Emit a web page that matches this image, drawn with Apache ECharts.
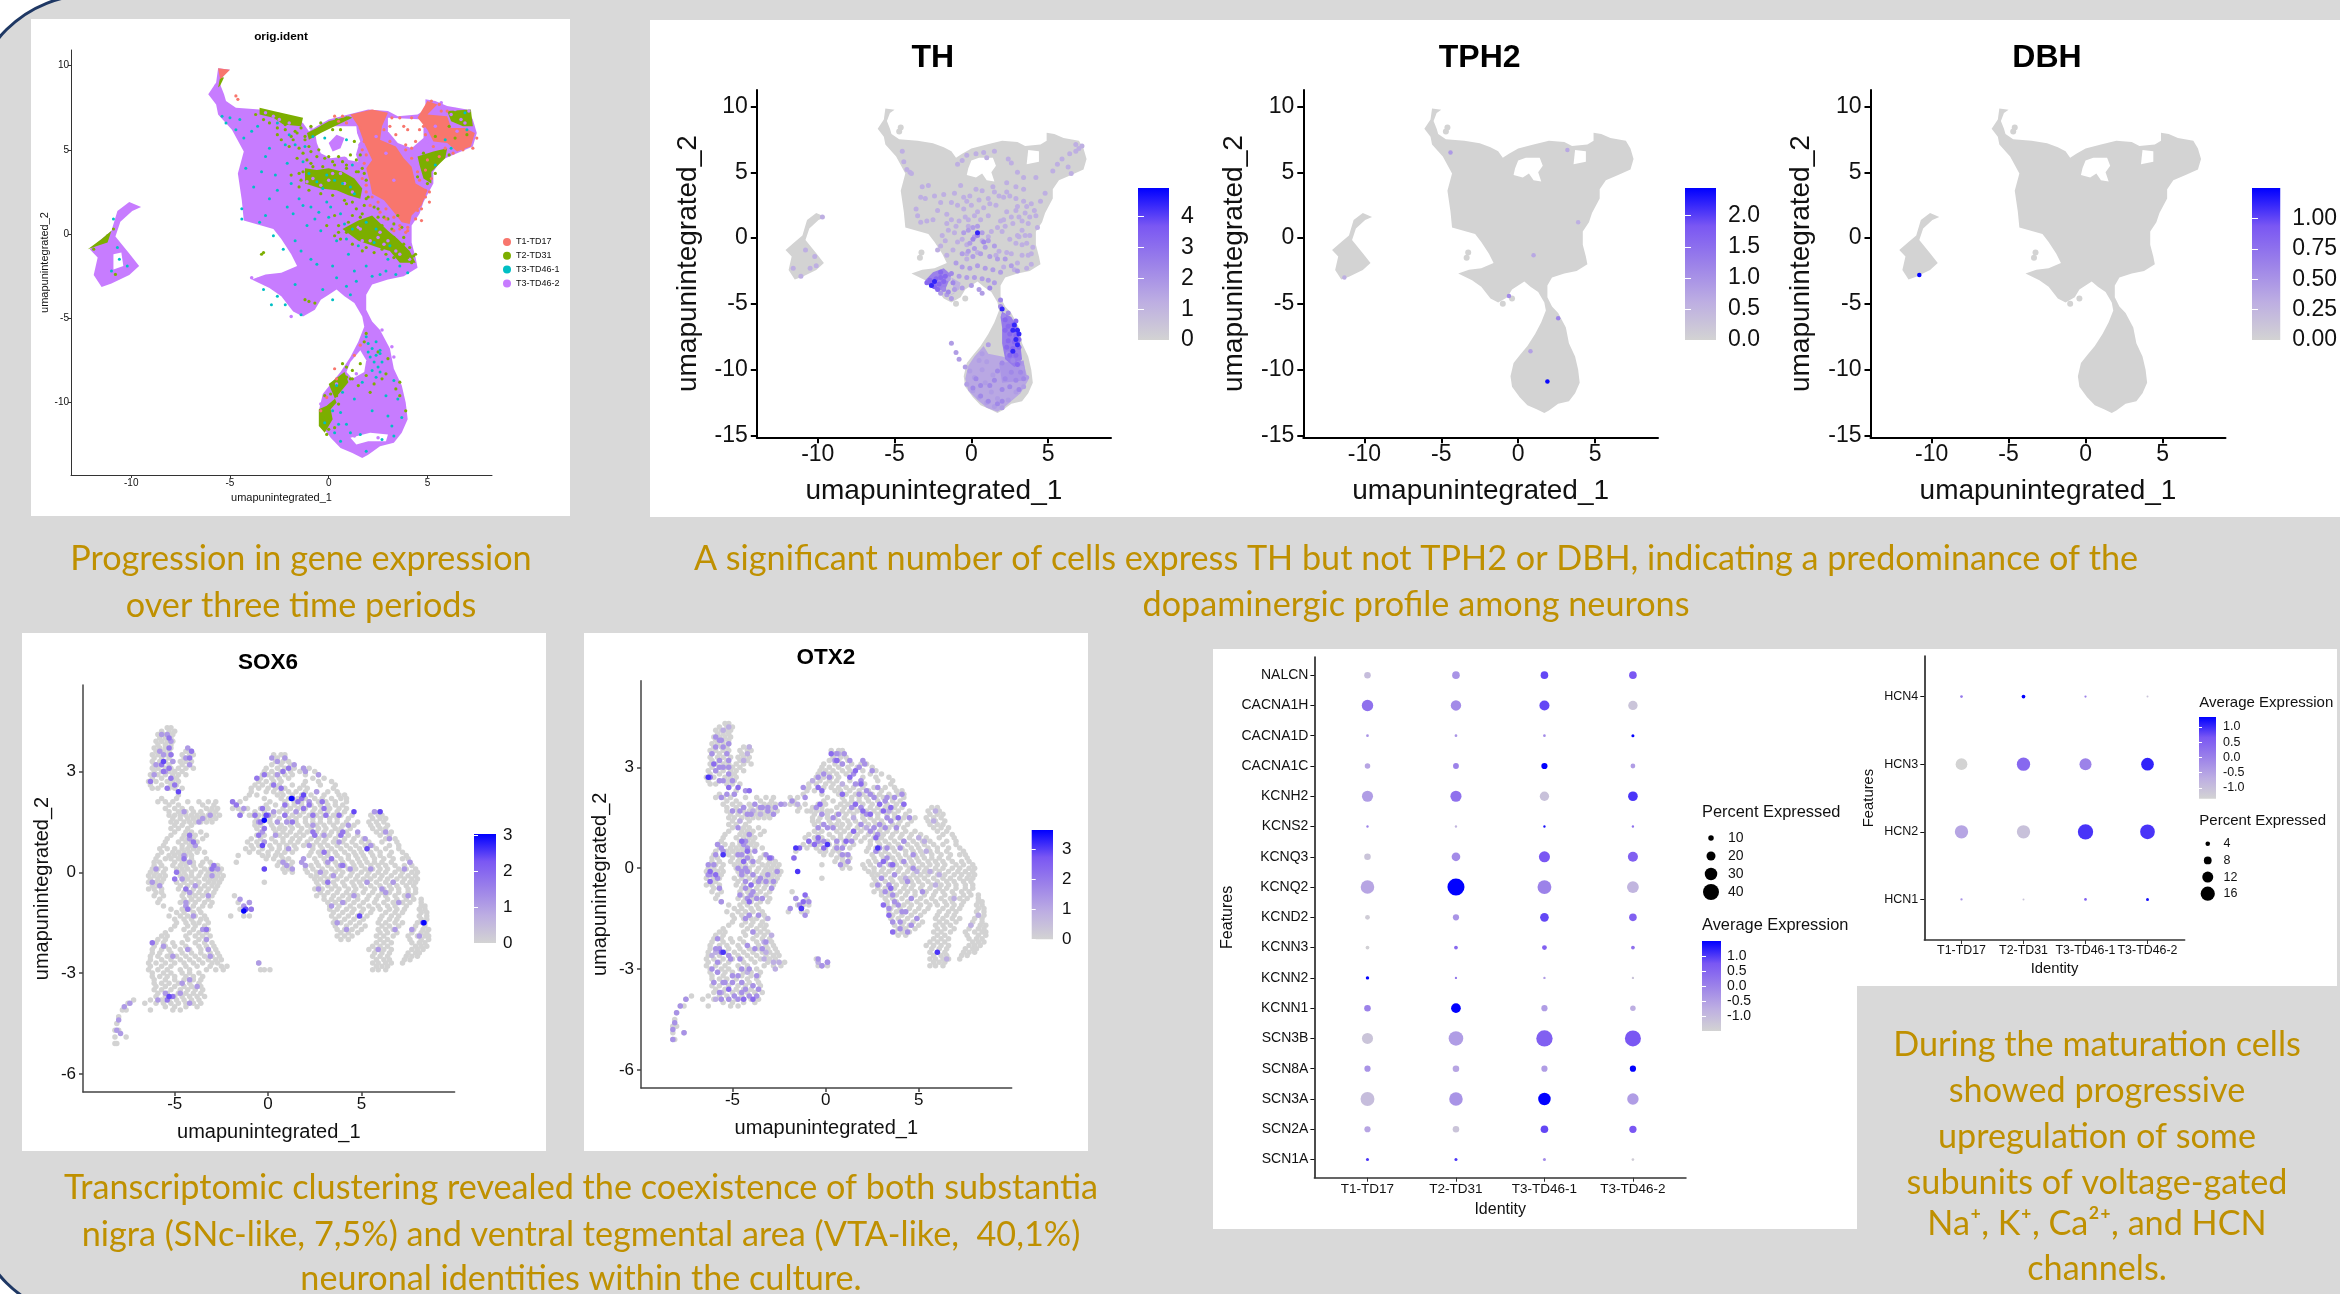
<!DOCTYPE html>
<html><head><meta charset="utf-8">
<style>html,body{margin:0;padding:0;background:#fff}#c{width:2340px;height:1294px}</style>
<script src="https://cdn.jsdelivr.net/npm/echarts@6/dist/echarts.min.js"></script>
</head><body><div id="c"></div>
<script>
// ---------- identities / gene labels ----------
const identities = ['T1-TD17','T2-TD31','T3-TD46-1','T3-TD46-2'];
const identColors = {s:'#F8766D',g:'#7CAE00',t:'#00BFC4',p:'#C77CFF'};
const channelGenes = ['NALCN','CACNA1H','CACNA1D','CACNA1C','KCNH2','KCNS2','KCNQ3','KCNQ2','KCND2','KCNN3','KCNN2','KCNN1','SCN3B','SCN8A','SCN3A','SCN2A','SCN1A'];
const hcnGenes = ['HCN4','HCN3','HCN2','HCN1'];
// ---------- dot plots: rows follow the gene lists, columns follow identities ----------
const channelAvg = [[-1.04,-.29,.91,.76],[.31,-.14,.91,-1.19],[-.29,-.29,-.14,1.51],[-.59,.01,1.51,-.44],[-.44,.31,-1.13,1.06],[.01,-.89,1.36,.31],[-1.19,-.14,.76,.61],[-.59,1.51,.01,-.89],[-1.34,-.29,.91,.61],[-1.43,.46,.61,.31],[1.51,.16,-.44,-1.19],[.01,1.51,-.44,-.74],[-1.19,-.44,.61,.76],[-.29,-.59,-.44,1.51],[-1.04,-.29,1.51,-.44],[-.59,-1.19,.91,.76],[1.06,1.06,-.14,-1.34]];
const channelPct = [[13,16,16,16],[27,24,23,21],[2,2,2,3],[10,11,12,8],[26,26,21,22],[1,1,1,1],[13,19,26,23],[33,43,34,28],[8,12,19,16],[5,5,8,5],[4,1,1,1],[13,22,12,10],[26,36,41,40],[12,13,12,12],[34,33,30,27],[12,13,16,15],[3,3,3,2]];
const hcnAvg = [[.12,1.32,-.02,-1.08],[-1.35,.39,-.02,1.05],[-.55,-1.03,.92,.92],[-.28,-1.08,.52,1.19]];
const hcnPct = [[1.6,2.9,1.1,.75],[12.9,14.9,13.3,14.1],[14.9,14.9,17.4,16.6],[1.1,.75,1.6,2]];
const channelPctLegend = [10,20,30,40];
const hcnPctLegend = [4,8,12,16];
const avgTicks = [-1,-.5,0,.5,1];
// ---------- UMAP cloud outlines, flat x,y pairs ----------
const outlineMain = [-5.6,9.85,-5,9.75,-5.3,9.5,-5.5,8.9,-5.3,8.3,-5.2,7.9,-4.7,7.5,-3.5,7.4,-2.5,7.2,-1.8,6.9,-1.3,6.6,-1,6.1,-.6,6.4,0,6.8,1,7.1,2,7.4,3,7.3,3.5,7,4.5,7.1,4.9,7.4,4.9,8,5.4,7.9,6,7.6,7,7.4,7.3,6.8,7.5,6,7.3,5.2,6.5,4.8,5.7,4.4,5.3,3.7,5.3,3,4.8,1.9,4.6,1.2,4.2,.5,4.2,-.5,4.4,-1.4,4.5,-2,3.8,-2.5,3,-2.7,2.2,-3,1.9,-3.6,1.9,-4.5,2.2,-5.2,2.6,-5.7,3.1,-6.8,3.3,-8,3.7,-9,3.9,-10,4,-11,3.7,-11.8,3.3,-12.4,2.6,-12.6,2,-13.1,1.7,-13.3,1.2,-13,.6,-12.7,.1,-12.1,-.4,-11.3,-.5,-10.5,-.3,-9.5,.1,-8.9,.6,-8.2,1.1,-7.3,1.5,-6.4,1.8,-5.5,1.7,-4.9,1.3,-4.1,.8,-3.7,.4,-3.3,0,-3.6,-.4,-3.9,-.7,-4.5,-1.3,-4.9,-1.8,-4.6,-2.4,-3.7,-3,-3.2,-3.9,-2.7,-3.2,-2.4,-2.4,-2.3,-1.6,-1.9,-1.9,-1.2,-2.4,-.3,-2.8,.3,-4.3,.8,-4.4,2,-4.6,3.6,-4.3,4.9,-4.9,6.2,-5.6,7.1,-5.7,7.7,-6.1,8.3,-5.7,9];
const outlineIsland = [-10.1,1.9,-9.5,1.6,-9.95,1.37,-10.55,.73,-10.8,-.15,-10.1,-1.16,-9.6,-1.9,-10.1,-2.43,-11,-2.94,-11.5,-3.14,-11.9,-2.43,-11.7,-1.4,-12.1,-.9,-11.5,-.3,-11,.2,-10.7,1.37];
const holeA = [0,5.9,.5,6.1,1.4,6.1,1.6,5.5,1.3,5,1.5,4.3,1,4.4,.7,4.9,.3,4.6,-.3,4.8,-.2,5.3];
const holeB = [3.7,6.7,4.4,6.6,4.4,5.8,3.6,5.6];
const holeC = [-3.4,-.9,-3.1,-.9,-3.1,-1.3,-3.4,-1.4];
const islets = [-3.25,-1.1,-3.35,-1.5,-4.7,8.1,-4.6,8.4,-1,-5,-.4,-4.6];
// ---------- orig.ident: regions dominated by one identity, plus extra white gaps ----------
const idGaps = [[-.7,6.1,-.1,6.4,.9,6.4,1.4,6.4,1.5,5.2,1.3,4.4,.8,4.6,.1,4.5,-.4,4.8,-.6,5.4],[3,6.9,4.8,6.8,4.8,5.7,4.2,5.1,3.5,5.4,3,6.1],[1.1,-7.6,1.6,-6.9,1.9,-7.5,1.8,-8.2,1.2,-8.6,.9,-8.2],[1.1,-12.1,2.1,-11.8,3,-11.9,2.9,-12.3,2,-12.3,1.4,-12.5],[-10.9,-1.2,-10.5,-1.1,-10.4,-1.9,-10.9,-2.1]];
const idGreen = [[-1.2,3.9,-.6,3.8,0,3.9,.7,3.7,1.3,3.3,1.7,2.7,1.6,2.1,1,2.3,.4,2.6,-.4,2.7,-1.2,3],[.7,.3,1.5,.8,2.2,1.1,3,.2,3.5,-.3,4.1,-1,4.4,-1.7,3.6,-1.7,3.1,-1,2.5,-.8,1.5,-.4],[-3.5,7.5,-2.8,7.3,-1.3,6.9,-1.4,6.4,-2.3,6.5,-2.8,6.9,-3.5,7.1],[-1.1,6,-.6,6.3,0,6.7,1,7,1.2,6.9,.3,6.4,-.4,6,-1,5.6],[4.5,4.6,5.3,4.9,6,5.1,5.9,4.5,5.2,3.7,5.2,3,4.8,3.3,4.6,4.1],[0,-8.9,.8,-8.2,1,-8.8,.3,-9.8,-.1,-10.2,-.5,-10.4,-.5,-11.4,-.2,-11.8,.2,-11,.1,-10.4,.4,-10],[6,7.3,7.2,7.4,7.3,6.4,6.8,6.4,6.2,6.7],[-5.5,9.3,-5.3,9.3,-5.5,8.8,-5.6,8.7],[-12.2,-.9,-11.5,-.3,-11,.2,-11.2,-.5,-11.7,-.7]];
const idSalmon = [[1.1,7.1,2.2,7.4,3,7.2,2.7,6.4,2.6,5.6,3.4,5.2,3.8,4.5,4.2,4,4.4,3,5,2.6,4.7,1.7,4.2,1.1,4.1,.6,3.7,.7,3.3,1.3,2.8,2,2.2,2.4,2.1,3,1.9,3.9,2.2,4.4,1.8,5.4,1.5,6.4],[5,7.9,5.5,7.7,5,7.1,6,7,6.2,6.3,6.9,6.3,7.4,6,7.2,5.2,6.5,4.9,6,5.4,5.3,5.5,5,6.2,4.5,6.9],[-5.6,9.85,-5,9.75,-5.3,9.4,-5.5,9.2]];
const idPurpleBlob = [0,5.4,.4,5.9,.8,5.7,.6,5.1,.2,4.9];
// fine speckle read on top of the regions: flat x,y pairs
const speckTeal = [-5,6.9,-4.7,6.2,-4.3,5.7,-3.6,6.4,-2.6,6.6,-2,5.9,-1.2,5.2,-.8,5.8,-.2,5.7,.9,5.6,1.2,4.1,.7,3,-.3,2.7,-1,3.6,-2.1,4.2,-2.6,2.6,-3.4,3.7,-4.2,3.9,-4.4,1.5,-3.2,1.1,-1.3,1.7,-.7,.9,-.1,1.9,.8,.6,1.5,-.7,2.3,-.5,3.1,-.7,3.6,-1.9,2.6,-2.4,1.4,-2.8,.4,-2.6,-.6,-1.8,-1.4,-1,-.3,-3.3,.2,-3.9,1.1,-3.6,-1.7,-3,-2.6,-3.7,-2.2,-4.2,-1.4,-4.8,1.9,-6.1,2.4,-7.2,2.6,-8.2,3.3,-8.7,3.5,-9.8,3.7,-10.9,3.2,-11.4,2.7,-12.2,1.6,-11.9,.9,-11.3,.2,-10.5,-.2,-11.2,.7,-9.4,1.3,-9.8,1.7,-8.8,6.9,7.2,7,6.2,6.2,5.1,5.9,5.6,5.4,4.1,-10.2,-1.9,-10.6,-1.5,-11,-2.2,-10.7,-.8,-10.9,.9,-1.8,1.2,-1.1,.5,-.4,.2,.4,-.4,1,-1.2,1.9,-1.9,2.9,-2.2,3.4,-2.4,4,-2.3,-1.5,2.1,-.9,1.6,0,1,.6,1.2,.9,-.3,-5.4,7,-5.2,6.6,-4.5,6.8,-3.9,6.1,-1.7,5.3,-1.3,4.3,-4.4,.9,-3.5,.7,-2.8,-.1,-2.3,-.9,.6,-10.6,1.1,-11.8,.3,-11.8,2.2,-10.5,2.9,-9.6,3,-10.8,.6,-12.3,1.9,-12.9,3.3,-12,.4,-9,.5,-11.3,2,-6.5,2.2,-6.8,2.4,-6.4,2.6,-6.9,2.1,-7.3,2.3,-7.6,2.5,-7.9,2.7,-7.6,2.2,-8.1,2.4,-8.5,2.6,-7.1,2,-7,-.6,3.1,-.1,3.5,.3,3.2,1.1,2.8,1.3,2.4,.1,1.6,-.5,1.3,1.9,.7,2.4,.3,1.2,.3,-2.1,1.6,-3,2.1,-3.8,2.8,-1.9,3,-2.7,3.5,-2.2,5.3,-3,5.1,-3.2,4.6,-1.7,-.4,-.9,-1.5,.2,-1.9,1.3,-2.2,2.2,-2.5,3,-1.5,.9,-3.1,-3.3,-3.3,-2.9,-4.2];
const speckGreen = [-3.4,7.3,-2.9,7.2,-2.2,6.9,-1.6,6.8,-1.4,6.3,-2.2,6.2,-1.2,5.8,-1.5,5.1,-.9,4.9,-1.6,4.5,-.3,6.4,.4,6.8,.9,6.9,1.3,5.5,1.6,4.7,1.7,3.9,2,2.2,2.3,1.6,2.8,1,3.3,.6,1.7,1.2,1.4,1.5,.9,1.8,.3,1.1,-.1,.5,3.8,-.2,4.2,-1.7,4.3,-1.3,4.1,-.8,4.5,3.4,5,3,5.4,3.6,4.8,4.8,6.1,4.7,7,5.9,1.9,-5.9,1.8,-6.4,.9,-7.9,1.2,-8.6,2.3,-8.9,2.9,-8.3,3.6,-9.6,3.9,-10.5,-.3,-11.3,-.1,-11.9,.4,-9.6,-1.2,-3.9,-1,-4,-.7,-4.1,-3.4,-1.2,-3.3,-1.1,-10.9,.3,-11.2,-.1,-11.9,-.9,-10.8,-2.4,-1.2,5.6,-1,5.2,-.6,4.6,-.2,4.5,-1.3,4.8,-.9,4.2,.2,4.3,.7,4.3,1.1,4.7,1.5,3.7,1.4,4.4,-1.8,5.6,-1.6,6,-2.6,5.9,-2,5.2,-1.9,3.5,1.8,1.7,1.6,1,1.2,1.1,2.2,.4,2.7,.5,2.5,1.5,3,.9,3.5,1.1,1,.7,.5,.5,1.9,-.8,2.9,-1.2,3.3,-1.4,3.8,-1.3,3.3,-.2,1.1,-8.6,1.5,-9,1.9,-8.4,2.1,-9.4,2.7,-8.6,2.5,-7,3,-7.4,1.6,-7.7,1.2,-8.1,3.4,-9.2,3.6,-8.8,.7,-7.7,6.1,6.4,6.5,6.7,5.4,5.8,5.8,4.9,6.4,5.7,-1.5,3.6,-1.4,3.2,-1.5,2.8,-1,2.6,-.4,2.4,.2,2.3,.8,2,1.2,1.9,1.9,2.1,1.9,3.2,1.8,3.6,1.4,3.7,.9,3.9,.3,4.1,-.3,4,-.8,4,-1.3,3.7,-1.1,4.4,-.5,5,0,4.6,.5,4.6,.9,4.1,-2.2,6.5,-2.6,6.3,-3,6.6,-3.3,6.8,-3.7,7.1,-1.7,6.1,-1.9,5.8,-2.4,5.6,-.9,6.4,-.4,6.6,.2,6.2,.6,6.2,.5,.1,.3,-.1,.9,.1,.6,-.3,1.2,-.6,1.7,-1,2.3,-1.1,2.7,-.9,3.4,-.7,3.8,-.6,4,-1.4,4.4,-1.2,3.7,.4,3.2,.3,2.5,1,2.1,.9,1.6,.5,-.2,-9.6,.1,-9.5,.5,-10.1,.4,-9.2,.9,-8.5,-.1,-11,-.3,-10.9,0,-11.6,.3,-11.5];
const speckSalmon = [-4.7,8.2,-4.6,8,.3,7,.9,6.6,1.6,6.3,1.8,5.5,1.9,2.5,2.1,1.7,2.6,1.3,2.9,.9,3.3,.2,3.6,.3,4,.2,4.7,.8,4.7,1.5,5.1,1.9,4.9,2.6,4.2,5.1,4.6,6.2,3.8,6.4,3.4,5.9,4.2,6.9,5.2,7.9,5.6,7.7,.3,-8,.4,-8.6,-.1,-9.7,-.4,-10.5,1.3,-7.2,1.6,-6.6,3.6,6.9,4,6.2,3.1,6.4,4.4,5.5,3.9,5.3,5.2,3.3,4.9,3.8,5,4.4,5.6,4.6,3.9,.1,1.7,5,1.9,4.7,1.8,4.2,1.7,3.3,1.9,2.9,2.2,2.2,2.5,1.9,2.9,1.5,3.3,1,3.6,.5,4,.4,4.4,.9,4.5,1.4,4.9,2.2,5.1,2.5,4.6,3.2,4.5,3.7,4.2,4.5,3.9,5,3.1,5.5,2.8,6.2,3.2,6.9,.7,7,.5,6.7,4.8,6.4,4.9,5.9,5.3,5.2,5.9,5.1,6.3,4.8,6.8,5,7.3,5.1,7.5,5.7,6,7.3,5.7,7.3];
const speckPurple = [-5.9,8.3,-5.7,8.8,-5.5,7.7,-4.7,7.3,5.7,7.8,6.4,7.4,7.1,7.3,6.5,6.1,5.4,6.4,5,5.5,4.1,4.3,3.3,3.2,2.9,4.8,2.4,5.8,.5,5.2,1.1,1,1.6,.3,2.5,-.2,3.4,-1,1.7,-.4,.6,3.6,-.4,4.3,-.9,6.3,-2.8,7,-1.5,-3.3,-1.9,-4.9,-3.9,-2.6,-3.6,-2.7,-.4,-10.1,.4,-8.9,1,-9.5,2.1,-7.7,2.7,-5.7,3.2,-6.7,3.3,-7.3,0,3.2,.8,3,-.8,3.3,2.6,.1,3,-.4,1.4,-8.3,1.7,-9.1,1.3,-12,2.5,-12.1,-1.1,3.1,-.4,2.9,.2,3.6,1.2,2.5,1.5,.4,2.1,-.4,2.8,-.6,3.6,-1.2,4.1,-1.5,6.2,7.1,6.7,6.8,6.9,6.6,-3.2,7.2,-2.5,6.8,-2,6.6];
// ---------- TH: zones of dense expression [value, x,y, ...] and single expressing cells [value, x,y, ...] ----------
const thZones = [
[1.4,.2,-9,.8,-8.2,1.1,-8.8,2,-9,3.4,-9.5,3.7,-10.8,3.2,-11.8,2.8,-12.2,2.1,-12.9,1.7,-13.2,1,-12.9,.4,-12.3,-.2,-11.6,-.4,-10.7,-.2,-9.7],
[1.9,1.8,-9.5,3.4,-9.3,3.6,-10.8,2,-11],
[2.7,2,-5.6,2.6,-6,3,-6.8,3.2,-8.2,3.3,-9.2,2.8,-9.8,2.2,-9.2,2,-8,2,-6.8,1.9,-6],
[2.5,-3,-3.2,-2.5,-2.6,-1.8,-2.3,-1.3,-2.8,-1.7,-3.9,-2.2,-4,-2.7,-3.7],
[1.1,-.7,-3.4,-1.3,-3,-1.1,-4.2,-1.6,-4.5,-.8,-3.9]
];
const thExpr = [
[1.2,-4.5,6.6,-4.4,5.8,-4.2,5.2,-4,5,-3.9,4.9,-3.2,3.9,-2.8,4,-3.3,3.1,-3,3,-2.4,3.2,-3.6,2.2,-3.5,1.7,-3.3,1.2,-2.9,1.3,-2.5,1.4,-2.2,2.1,-2,2.7,-1.8,3.3,-1.6,1.1,-1.3,2.7,-1.3,1.4,-1.1,.4,-1.1,3.4,-.9,2.5,-.8,1.3,-.7,4,-.5,3.1,-.5,2.2,-.4,1.6,-.2,.9,-.1,3.2,0,2.5,.2,1.7,.3,3.7,.5,2.9,.6,1.4,.8,2.3,1.1,3,1.1,1.7,1.3,.5,1.5,3.5,1.6,2.5,1.9,1.3,2,.5,2.3,3.5,2.3,2,2.5,3.2,2.7,1.1,2.9,3,3,2.4,3.1,1.6,3.3,.6,3.4,2.8,3.5,1.9,3.7,1.1,3.9,2.6,4.1,2.1,4.5,2.8,1.5,6.6,2.4,6,2.6,5.7,3,5,3.4,4.6,4.2,4.6,5.3,5.1,5.6,5.6,5.9,6,6.3,5.4,6.4,6.4,6.8,6.6,6.8,7.1,7,6.8,7.2,7,6.5,4.9,4.8,3.4,2.3,4.2,2.1,1.4,1.8,3.2,-10.8,-.9,-10.2,-1.4,-10.5,-2.3,-10.1,-2.1,-9.7,1.6,-11.1,-2.9,-11.6,-2.3,-2,-.6,-1.7,-.2,-1.5,.6,-1.2,-.9,-.9,-.3,-.6,-.1,-.3,-1.6,2.6,-1.2,3,-1.9,3.3,-.5,3.7,-1.3,3.9,-2,2.1,-2.2,1.8,-1,2.5,-.1,3.1,.1,3.8,.2,4,-.7,-.6,5.9,-.9,5.6,-.3,6.3,.3,6.4,.8,6.5,1,6.1,.7,3.6,1.2,2.6,1.4,3.9,.4,2,-.3,2.8,-1.6,1.8,-1,.9,-.2,1.4,2.9,2.1,3.6,2.4,3.8,1.6,4.2,1.7,4.3,.8,3.3,1.3,2.6,1.6,3,.2,3.5,.2,2.2,.9,1.7,.8,1.1,.1,.7,-.2,-.3,-.5,-1.6,-1.3,-2.2,-.9,-.3,-1.2,.4,-1.1,1.6,-1.3,2.3,-1.1,3.3,-1.3,3.6,-.4,3.9,-1.2,2.9,-.4,3.6,-2.3,2.8,-2.4,-1.9,.2,3.4,3.7,2.9,3.9,2.1,3.1],
[1.7,-.6,-1.2,-.2,-1,.2,-.8,.6,-1.2,.9,-.7,1.2,-1.4,1.5,-.6,1.7,-1.6,2.2,-1.6,2.6,-2.1,3,-2.5,-1,-1.9,-.6,-2.2,-.1,-2.3,.4,-2.1,.9,-2.3,1.4,-2.4,1.9,-2.6,-.8,-2.9,-.3,-3,.2,-3,.7,-3.1,1.1,-3.2,1.5,-3.4,-.6,-3.8,0,-3.6,.5,-3.9,-.1,-.4,-.5,.4,-.2,.6,.2,.1,.4,.9,.7,.4,1.1,-.2,.1,-1.4,-1.5,-3.1,-1.1,-3.9,-1.6,-4.3,-2,-4.2,.7,-4.2,-1.3,-4.6,.1,.8,.4,.3,-1.3,-8,-1,-8.7,-.8,-9.2,-.4,-9.8,-.1,-10.1,.2,-10.6,-.3,-11.1,.1,-11.6,.5,-12.1,1,-12.5,1.5,-12.8,2,-12.9,2.4,-12.3,2.9,-11.7,3.4,-11.3,3.6,-10.6,3.3,-9.9,.7,-10,1,-9.4,1.4,-10.4,.9,-11,1.3,-11.7,1.7,-12.2,.5,-9.3,.7,-8.8,1.1,-8.1],
[2.3,1.7,-10.1,2,-9.5,2.2,-10.7,2.6,-10.2,2.9,-10.8,3.2,-10.2,2.5,-11.3,2,-11.5,1.5,-10.8,1.2,-11.2,.6,-11.2,.3,-10.7,.1,-11.4,.6,-12,1.1,-12.4,1.7,-12.6,2,-12.4,3.1,-11.5,2.7,-9.3,3.1,-9.5,2.4,-8.8,3.4,-10.7,-1.8,-2.8,-1.3,-2.7,-1.2,-3.4,-1.8,-3.9,-2.2,-3.3,-1.5,-4.1,.1,-.1,.8,-.3,.4,.2,1.9,-5.2,2.1,-5.9,2.4,-5.7,1.9,-4.7,1.2,-3.8],
[3.2,-2.7,-3.2,-2.5,-3.4,-2.3,-3.1,-2.1,-3.5,-2.4,-3.7,-2.6,-3.5,-2.9,-3.4,-2,-3,-1.8,-3.3,-2,-2.6,-1.7,-2.9,-2.2,-3.9,2.2,-6.2,2.4,-6.7,2.7,-6.6,2.2,-7,2.5,-7.3,2.9,-7.4,2.4,-7.8,2.8,-7.9,3.1,-7.7,2.3,-8.3,2.7,-8.4,3.1,-8.3,2.5,-8.9,2.9,-8.9,2.9,-6.3,3,-9.6],
[4.4,-2.6,-3.6,-2.4,-3.3,.4,.4,2,-5.4,2.8,-6.6,3,-7,3.1,-7.3,2.7,-7,2.9,-7.7,3,-8.1,2.7,-8.6]
];
// ---------- TPH2 / DBH expressing cells: [x,y,value] ----------
const tph2Expr = [[-4.4,6.5,.9],[3.2,6.7,.7],[3.9,1.2,.6],[1.0,-1.3,.7],[-11.3,-3,.6],[-.6,-4.4,1.1],[2.6,-6.1,1.2],[.8,-8.6,.8],[1.9,-10.9,2.4]];
const dbhExpr = [[-10.8,-2.8,1.25]];
// ---------- neuron subset cells: [y, x, x, ...] ----------
const neuronCells = [
[4.3,-5.4,-5.2],[4.1,-5.9,-5.6,-5.3,-5.1],[3.9,-6,-5.7,-5.4,-5.1],[3.7,-6.1,-5.8,-5.5,-5.2],[3.5,-6.2,-5.9,-5.5,-5.2,-4.6,-4.2,-4],[3.3,-6.2,-5.8,-5.5,-5.1,-4.7,-4.4,-4.1],[3.1,-6.2,-5.9,-5.5,-5.2,-4.8,-4.4,-4],[2.9,-6.3,-5.9,-5.5,-5.1,-4.8,-4.4],[2.7,-6.4,-6,-5.4,-5.1,-4.8],[2.5,-6.2,-5.9,-5.3,-5,-4.6],[2.3,-4.8],
[2.1,-5.9,-5.5,-5.1,-4.3,-3.7,-3.2,-2.8],[1.9,-5.5,-5,-4.6,-4.1,-3.3,-3,-2.7,-1.9,-1.6,-1.1],[1.7,-5.3,-5,-4.7,-4.4,-4.1,-3.8,-3.5,-3.2,-2.9,-2.6,-1,-.5,-.2,.1],[1.5,-5.2,-4.9,-4.5,-4.2,-3.9,-3.6,-3.3,-3],[1.3,-5.2,-4.8,-4.3],[1.1,-5.2,-4.5,-4.2,-3.9,-3.3],[.9,-5.5,-4.8,-4.4,-4.1,-3.8],[.7,-5.8,-5.4,-5,-4.6,-4.3,-4,-3.7],[.5,-5.9,-5.3,-5,-4.7,-4.4,-4.1],[.3,-6.1,-5.8,-5,-4.6,-4.3,-4,-3.5,-3.1],[.1,-6.2,-5.9,-5.5,-4.9,-4.6,-4.3,-3.9,-3.4,-3.1,-2.8,-2.5,-.2],[-.1,-6.4,-6.1,-5.8,-5.5,-4.7,-4.4,-4.1,-3.7,-3.3,-3,-2.7,-2.4],[-.3,-6.4,-6,-5.7,-4.9,-4.5,-4.1,-3.7,-3.2,-2.9,-2.6,-.2],[-.5,-6.4,-6.1,-5.7,-4.8,-4.4,-4,-3.6,-3.2,-2.8],[-.7,-6.1,-5.6,-4.6,-4.2,-3.9,-3.5,-3,-1.8],[-.9,-5.9,-4.7,-4.3,-3.9,-3.4,-3,-1.6,-1],[-1.1,-5.2,-4.6,-4.2,-3.7,-1.5,-1.2,-.9],[-1.3,-5.3,-4.7,-4.3,-3.9,-3.4,-2,-1.3,-1],[-1.5,-4.9,-4.4,-4,-3.7,-3.2],[-1.7,-5.2,-4.5,-4,-3.5,-3.2],[-1.9,-5.7,-5.4,-4.4,-3.9,-3.5,-3.1],[-2.1,-6,-5.6,-5.1,-4.6,-3.9,-3.4,-3],[-2.3,-6.2,-5.7,-5.3,-4.7,-4.2,-3.6,-3.2,-2.8],[-2.5,-6.3,-5.9,-5.4,-4.9,-4.4,-3.9,-3.4,-3,-2.6],[-2.7,-6.4,-6,-5.5,-5,-4.5,-4,-3.5,-3,-2.7,-.5],[-2.9,-6.4,-5.9,-5.4,-4.7,-4.2,-3.3,-2.8,-2.4,-.4,-.2,.1],[-3.1,-6.2,-5.8,-5.4,-5,-4.4,-4,-3.5],[-3.3,-6.1,-5.7,-5.3,-4.8,-4.2,-3.7],[-3.5,-6.1,-5.7,-5.2,-4.7,-4.3,-3.9,-3.5],[-3.7,-6,-5.5,-5,-4.6,-4.2,-3.8,-3.4],[-3.9,-7.5,-6.6,-6,-5.6,-5.2,-4.8,-4.4,-4,-3.6],[-4.1,-7.8,-7.6,-6.3,-5.1,-4.7],[-4.3,-8],[-4.5,-8.1],[-4.7,-8.2,-8],[-4.9,-8.2,-7.6],[-5.1,-8.2,-8.1],[-3.8,-7.2],
[3.5,.3,.7,.9],[3.3,.4,.8,1.1],[3.1,-.1,.5,.9,1.4,1.9,2.2],[2.9,-.3,0,.4,.9,1.3,2,2.7],[2.7,-.5,-.1,.3,.7,2,2.7,3.4],[2.5,-.9,-.5,0,.4,.9,1.7,2.1,3.5],[2.3,-1,-.6,.5,.8,1.3,1.8,2.3,3,3.8,4.1],[2.1,-1.9,-1.5,.1,.9,1.4,1.8,2.2,2.7,3.1,3.6,4.2],[1.9,-.4,0,.8,1.2,1.6,2,2.5,2.9,3.3,3.8,4.2],[1.7,-1.5,-.8,.3,.9,1.3,1.7,2.2,2.6,3,3.5,3.9,4.5,5.5,5.9,6.1],[1.5,-.7,-.3,.1,.5,1,1.5,2,2.4,2.8,3.3,3.7,4.2,4.8,5.4,5.8,6.2],[1.3,-.6,-.2,.3,.6,.9,1.3,1.8,2.3,2.7,3.1,3.6,3.9,4.4,5.6,6,6.3],[1.1,-.6,-.2,.6,1,1.5,1.9,2.5,2.9,3.3,3.8,4.3,4.8,6,6.5],[.9,-1.1,-.6,-.2,.4,.8,1.2,1.6,2.1,2.6,3,3.5,4,4.5,5,5.4,6.1,6.9],[.7,-1.2,-.8,-.3,.2,.6,1,1.5,2.4,2.9,3.4,3.9,4.4,4.9,5.3,5.8,6.3,7],[.5,-1.6,-.3,0,.4,.7,2.2,2.8,3.2,3.7,4.3,4.7,5.1,5.6,6,6.5,7.4],[.3,-1.7,.6,.9,1.3,2.6,3.1,3.6,4,4.5,4.9,5.3,5.7,6.1,6.6,7.6],[.1,.8,1.1,2,2.4,2.9,3.4,3.8,4.3,4.7,5.2,5.6,6,6.4,7,7.4,7.9],[-.1,2.3,2.6,3,3.4,3.9,4.4,4.8,5.3,5.7,6.1,6.6,7.1,7.5,7.9],[-.3,2.6,3,3.5,4,4.5,4.9,5.3,5.8,6.3,6.7,7.2,7.6,7.9],[-.5,2.5,2.9,3.4,3.8,4.3,4.7,5.2,5.7,6.2,6.6,7,7.5,7.9],[-.7,2.6,3,3.5,4,4.4,4.8,5.4,5.9,6.3,6.8,7.3,7.7],[-.9,3.2,3.6,4.1,4.6,5.1,5.7,6.2,6.7,7.2,7.6,8.2],[-1.1,3.3,3.7,4.2,4.6,5.1,5.6,6,6.5,6.9,7.3,8.1,8.4],[-1.3,3.4,3.8,4.3,4.8,5.3,6.1,6.6,7,8.1,8.5],[-1.5,3.5,3.9,4.4,4.9,5.9,6.3,6.8,7.2,8,8.4],[-1.7,3.7,4.1,4.5,5,5.9,6.3,6.7,7.8,8.3,8.6],[-1.9,3.7,4.1,4.5,5.8,6.2,6.7,7.5,8,8.4,8.6],[-2.1,5.8,6.2,6.6,7.7,8.1,8.4],[-2.3,5.4,5.8,6.2,6.6,7.7,8,8.3],[-2.5,5.6,6,6.4,7.4,7.7,8],[-2.7,5.6,5.9,6.3,6.6,7.2],[-2.9,5.6,5.9,6.3],
[4.2,-5.7,-5.3,-5],[4,-5.8,-5.5,-5.2],[3.8,-5.9,-5.5,-5.2],[3.6,-6,-5.6,-5.3,-4.4,-4.1],[3.4,-6.1,-5.7,-5.3,-4.5,-4.2,.5,.9],[3.2,-6.1,-5.7,-5.3,-4.6,-4.2,.2,.7,1.2],[3,-6.1,-5.7,-5.3,-5,-4.6,-.2,.2,.7,1.2,1.7,2.5],[2.8,-6.2,-5.7,-5.2,-4.9,-.4,.2,.6,1.1,2.4,3],[2.6,-6.3,-5.7,-5.2,-4.9,-.7,-.3,.2,.6,1.3,1.9,2.8,3.6],[2.4,-.9,-.1,.3,.7,1.1,1.5,2,2.6,3.2,3.7],[2.2,-5.7,-4.9,-1.2,-.2,.7,1.1,1.6,2,2.5,2.9,3.4,3.9,4.2],[2,-5.3,-4.8,-3.5,-2.9,-1.7,-.1,.4,1,1.4,1.8,2.3,2.8,3.2,3.6,4],[1.8,-5.3,-4.8,-4.4,-4,-3.6,-3.1,-2.8,-1.4,-.7,-.2,.6,1,1.5,1.9,2.4,2.8,3.2,3.7,4.1,5.7,6],[1.6,-5.1,-4.7,-4.3,-4,-3.7,-3.4,-3.1,-2.8,-.6,-.2,.1,.6,1.1,1.5,2,2.4,2.8,3.3,3.7,4.3,5.6,6,6.3],[1.4,-5,-4.6,-4.1,-.7,-.4,.2,.7,1.2,1.6,2.1,2.6,3,3.5,4,4.6,5.5,5.9,6.4],[1.2,-5,-4.4,-4.1,-3.6,-.4,.4,.8,1.2,1.7,2.1,2.6,3,3.4,3.8,4.2,5.8,6.2,6.6],[1,-5.4,-4.6,-4.3,-4,-3.5,-.9,-.4,.2,.8,1.3,1.7,2.3,2.7,3.1,3.6,4.1,4.6,5.1,6.3,6.8],[.8,-5.6,-4.6,-4.2,-3.9,-.9,-.5,.1,.6,1,1.4,1.9,2.4,2.8,3.2,3.7,4.2,4.7,5.2,5.6,6.5,7],[.6,-5.7,-5.1,-4.8,-4.5,-4.2,-3.8,-3.4,-1,-.5,0,.5,.9,1.3,2.3,2.7,3.2,3.6,4.1,4.6,5,5.5,6,6.6,7.2],[.4,-6,-5.5,-5.2,-4.8,-4.5,-4.1,-3.3,-.1,.3,.8,1.1,2.5,3,3.4,3.9,4.3,4.8,5.2,5.7,6.2,6.7,7.2,7.5],[.2,-6.1,-5.7,-5.1,-4.7,-4.4,-4,-3.6,-3,-2.7,.5,.9,1.2,2.3,2.7,3.2,3.7,4.1,4.6,5,5.5,5.9,6.3,6.8,7.3,7.7],[0,-6.3,-6,-5.6,-4.8,-4.5,-4.1,-3.6,-3.2,-2.9,-2.6,.9,1.3,2.1,2.6,3.1,3.6,4,4.5,5,5.4,5.9,6.3,6.8,7.2,7.7,8],[-.2,-6.3,-5.9,-5.6,-4.6,-4.3,-3.9,-3.4,-3.1,-2.8,-2.5,2.5,2.8,3.2,3.7,4.2,4.7,5.1,5.5,6,6.4,6.9,7.3,7.7,8],[-.4,-6.2,-5.9,-4.7,-4.3,-3.8,-3.4,-3,-2.7,2.7,3.2,3.6,4.1,4.6,5,5.5,6,6.5,6.9,7.4,7.8],[-.6,-6,-5.7,-4.5,-4.1,-3.7,-3.3,-2.9,2.8,3.2,3.7,4.2,4.6,5.1,5.6,6.1,6.5,7,7.5,7.9],[-.8,-5.8,-4.5,-4.1,-3.7,-3.2,3,3.4,3.8,4.3,4.8,5.3,5.8,6.4,6.9,7.4,7.8,8.2],[-1,-5.6,-4.4,-4,-3.5,-3.1,3.3,3.8,4.4,4.9,5.4,5.9,6.4,6.8,7.4,8.2,8.4],[-1.2,-4.9,-4.5,-4,-3.6,3.5,4,4.5,5,5.5,6.3,6.8,7.2,8.2,8.5],[-1.4,-5,-4.5,-4.1,-3.6,-3.3,3.6,4.1,4.6,5.1,6,6.5,6.9,8.2,8.5],[-1.6,-5,-4.3,-3.9,-3.4,3.6,4.2,4.7,5.2,6.1,6.5,7,7.9,8.4],[-1.8,-5.5,-4.2,-3.7,-3.3,3.9,4.3,4.8,6,6.4,6.9,7.7,8.2,8.5],[-2,-5.9,-5.5,-4.3,-3.7,-3.3,3.9,4.3,6,6.4,7.6,8.2,8.6],[-2.2,-6.1,-5.5,-5,-4.4,-3.7,-3.3,-2.9,5.6,6,6.4,7.9,8.2,8.5],[-2.4,-6.2,-5.8,-5.2,-4.6,-4.1,-3.6,-3.1,-2.7,5.7,6.1,6.5,7.5,7.9,8.1],[-2.6,-6.3,-5.7,-5.2,-4.7,-4.2,-3.7,-3.2,-2.8,-2.5,5.8,6.2,6.5,7.3,7.6],[-2.8,-6.3,-5.7,-5.2,-4.4,-3.8,-3.1,-2.5,-2.2,5.8,6.1,6.4],[-3,-6.2,-5.6,-5.2,-4.6,-4.2,-3.7],[-3.2,-6.1,-5.5,-5,-4.5,-4,-3.6],[-3.4,-6,-5.5,-5,-4.5,-4.1,-3.6],[-3.6,-5.9,-5.4,-4.8,-4.4,-4,-3.6],[-3.8,-6.3,-5.7,-5.3,-4.9,-4.5,-4.1,-3.7],[-4,-5.5,-5,-4.4,-3.8]
];
// ---------- SOX6 / OTX2 expression: [value, x,y, x,y, ...] ----------
const sox6Expr = [
[1.1,-5.7,4.1,-5.4,4.1,-5.2,3.9,-5.8,3.6,-5.6,3.5,-6,3.2,-5.5,3,-6.1,2.9,-5.1,3.3,-4.3,3.7,-4.4,3.4,-4.2,3.2,-3.5,1.6,-3.1,1.7,-1.3,1.9,-4.5,1.8,-3.7,1.5,-4.2,1,-4.5,.5,-4.2,.3,-3.9,.8,-6,.1,-6.2,-.3,-5.8,-.4,-4.6,-.2,-4.2,-.6,-4.4,-.9,-3.9,-.4,-3,-.1,-2.7,.1,-3.2,-.7,-4.4,-1,-4,-1.3,-3.5,-1.7,-3.3,-2,-3.2,-2.3,-3.1,-2.5,-5.1,-2.5,-5.6,-2.2,-4.3,-2.3,-4.6,-3.3,-4.2,-3.2,-3.8,-3.4,-5.9,-3.8,-5.5,-3.6,-4.7,-3.6,-4.2,-3.9,-7.4,-3.9,-7.7,-4,-8,-4.4,-8.1,-4.7,-7.9,-4.8,-1.5,-.8,-1.3,-1,-1,-.9,-.5,-2.7,1,.2,.8,.3,1.3,.1,1.8,.3,2,.2,2.8,0,3.2,.3,3.5,-.1,3.9,.2,4.4,.1,4.6,-.7,5.3,-.3,6.1,-.5,6.7,-.3,7.3,.1,7.6,.3,7.5,-.7,7,-.9,6.3,-.6,6.8,-1.7,7.7,-1.7,8.1,-1.9,5.9,-2.3,2.7,-.5,3.4,-1,3.7,-1.5,4.2,-1.7,4,-.9,5.5,.1,5.5,.8,5.7,1.8,6.3,1.2,6.5,1,5.2,1,4.8,1.2,4.3,1.4,3.8,.9,3,1.1,2.4,1.4,2.2,.8,1.9,.4,1.1,.7,.4,1.1,-.2,.9,-.3,1.2,-.5,1.5,.3,1.8,.5,1.5,1,1.5,1.5,1.8,2.2,2.1,2.6,2.4,2.7,2.9,2,3,1.9,3.1,1.4,3.2,.5,2.9,.2,3.4,.5,3.3,.9,3.4],
[1.7,-5.3,4,-5.3,3.7,-5.2,3.5,-5.7,3.2,-5.3,3.1,-6.3,2.7,-5.6,3,-5.2,2.8,-5,2.6,-5.4,2.5,-4.1,3.6,-4.2,3.4,-1.9,2.1,-1.7,2,-1.5,1.7,-.7,1.7,-.3,1.9,-.4,1.5,-.2,1.3,-.5,1.1,0,1.7,-4.2,1.1,-4,.9,-4.5,.4,-3,.1,-2.9,.2,-4.9,0,-5,-.2,-4.4,-.5,-4.3,-1.1,-1.2,-1.1,-.9,-1.1,-3.3,-1.7,-6.2,-2.1,-5.4,-3.8,-5.1,-3.7,-.2,2.9,.3,2.6,.7,2.5,.8,3,1.1,3.1,-.6,2.8,.9,2,.9,1.7,1.3,1.5,1.6,2.1,1.8,2.2,1.9,1.9,2.2,2,2.4,1.7,2.4,1.2,2.5,1.1,2.9,2.1,3,1.9,3.1,1.7,3.8,1.7,3.9,1.1,4,1.2,3,.6,3.4,.4,4,.2,3.2,-.3],
[2.4,-5.6,3.3,-4.8,2.4,-.1,1.7,-.3,.8,-.2,.1,1.9,2.3,1.3,2.2,-1.2,-1.1,-5.3,-3.7,4.9,-1.3,8.3,-1.5,4.6,1.8,5.3,.7,6,1.8],
[3,1.25,2.2,-.2,1.55,-1.3,-1.15,8.35,-1.5]
];
const otx2Expr = [
[.9,-5.5,4.1,-5.2,4.2,-4.1,3.6,-4.4,3.2,-4.2,3.4,-3.9,1.7,-3.5,1.6,-4.6,1.4,-3.1,-1.5,-2.9,-2,-3.3,-2.2,-3.2,-2.5,-3.3,-2.7,-2.8,-2.8,-2.5,-2.8,-2.7,-3,-.4,-2.8,-.2,-2.9,.1,-2.8,-4.2,-3.1,-5.9,-3.9,-5.6,-3.7,-6.1,-2.6,-5.9,-2.5,-2.2,1.9,-1.5,1.9,-.7,2.6,.7,3.4,.9,2.5,1.5,1.5,2.2,1.2,3.4,1.7,5,.9,5.3,.8,5.8,1.4,5.9,1.7,5.4,.5,4.9,-.1,5.6,-.1,4.3,-.3,6.1,-.2,5.9,-.5,6.9,-.9,6.5,-2.7,7.8,-1.7,8.2,-1.4],
[1.5,-5.9,3.9,-5.6,3.8,-5.5,3.6,-5.2,3.7,-5.9,3.6,-6.1,3.4,-5.7,3.2,-5.2,3.2,-5.5,3,-5.9,2.9,-5.2,2.8,-5.5,2.6,-5,2.6,-4.3,2.3,-4.9,2.2,-5.3,2.2,-5.6,2.1,-5,1.7,-4.6,1.7,-4.2,1.6,-3.8,1.9,-3.4,1.8,-3.1,1.7,-2.7,1.8,-2.4,1.9,-1.8,2,-1.2,2.4,-1.1,2.1,-.4,2.7,-.1,2.8,.2,2.7,.5,3.2,.6,3.4,1,3.4,1.3,3.2,1.8,3,2.1,3.1,2.5,2.9,1.6,2.5,1.8,2.2,2.2,2.3,2.6,2.1,3.3,2.1,3.7,2.1,4.1,2.2,1.4,1.8,.7,1.6,.4,1.5,.1,1.2,-.2,1.6,-.4,1.2,-.4,.8,-.1,.8,.6,.6,.9,.4,1.2,.2,.8,.1,1.9,1.3,2.4,1.1,2.9,1.3,3.3,1.5,3.8,1.2,4.5,1.5,4.2,.8,2.7,.5,2.9,.1,3.3,.3,3.7,-.2,4.2,.2,4.7,.4,2.8,-.5,3.2,-.7,3.7,-1,4.1,-1.3,4.6,-.9,5.2,-.7,4.9,-1.5,3.6,-1.6,4,-1.8,4.4,-1.9,-4.7,1.2,-4.1,1,-4.4,.7,-5.8,.7,-5.5,.5,-4.7,.4,-4.2,.3,-3.8,.5,-3.2,.4,-2.9,.3,-6.3,.1,-6,.1,-6.3,-.2,-5.8,-.3,-4.5,-.1,-4.2,-.1,-3.5,-.3,-3.1,-.2,-2.8,-.4,-2.6,-.1,-5.6,-1,-4.6,-.8,-4.2,-.9,-3.9,-.7,-3.4,-.9,-4.3,-1.5,-3.6,-1.4,-3.9,-1.9,-5.8,-2.1,-5.7,-2.4,-5.1,-2.7,-4.6,-2.7,-4.2,-2.3,-3.8,-2.4,-6.1,-3,-5.8,-3.1,-5.4,-3.4,-5,-3.2,-4.5,-3,-4.1,-3,-3.7,-3.2,-5.6,-3.9,-5.2,-3.9,-4.7,-3.9,-4.3,-3.6,-3.9,-3.5,-3.6,-3.6,-7.5,-3.9,-7.8,-4.1,-8,-4.3,-8.1,-4.6,-8.2,-4.8,-8.2,-5.1,-7.6,-4.9,-1.6,-.9,-1.4,-1.1,-.9,-1,-1.1,-1.4,-1.9,-1.2,-.2,-2.9,.1,-2.8,-.4,-2.7,-5.7,3.8,-5.3,3.4,-5.7,3,-5.2,3,-5.7,2.6,-4.4,1.8,-4,1.6,-3.1,1.8,-3.5,1.8,-2.8,1.6,-4.3,.8,-4.2,.6,-4.5,.4,-3.9,.2,-4.7,0,-4.3,0,-4.5,-.2,-3.9,-.2,-3.6,-.4,-3.2,-.4,-2.9,-.6,-5.7,-.6,-6.2,-.2,-5.9,.4,-5.6,.6,-4.3,-.4,-4.3,-.6,-4,-.8,-3.7,-.9,-4.1,-1.4,-3.4,-2.4,-3.2,-2.2,-5.9,-2.4,-5.8,-2.8,-5.2,-2.6,-4.7,-3.2,-4.5,-3.4,-5,-3.4,-5.5,-3.4,-6,-3.4,-5.7,-3.7,-4.9,-3.8,-4.1,-3.8,-3.7,-3.8,-4.5,-3.7,-.5,1.8,-.1,1.3,.4,1.2,.6,.8,.9,.6,1.2,.4,1.4,.8,1.9,1.8,2.4,2.2,2.8,2.4,3.2,2,3.5,1.4,3.2,1.2,2.8,1,2.2,1.6,2.6,1.2,1.9,2.6,1.5,2.8,2,3.2,2.9,.6,3.3,.6,3.5,.1,3,-.3,3.4,-.5,3.6,-.8,3.4,-1.2,3.9,-1.1,4,-1.6,4.3,-1.3,4.6,-1.7,4.4,-.4,4.7,0,4,.6,.6,3.2,.9,3.1],
[2.3,-6.2,2.7,-6,3.1,-5.2,2.4,-4.7,2.4,-4.1,2.3,.3,3.4,.6,3.2,-.2,2.3,-.4,2.4,-.3,1.9,.9,2.2,1.3,2.7,1.6,2.9,1.9,2.5,1.6,1.9,2,1.7,2.4,1.6,2.9,1.9,3.1,1.7,3.5,1.8,3.9,1.5,4.2,1.9,-.6,.7,-.1,.6,-.4,.9,1.5,1.1,1.1,.8,2.7,.9,3.1,.2,3.6,.1,3.5,-.6,3.1,-1.1,3.4,-1.4,3.6,-1.9,-4.5,.8,-4.2,.5,-4.4,.2,-6.2,-.1,-5.9,-.2,-6.2,-.4,-4,-.5,-4.1,-1,-3,.3,-5.6,-2.5,-5.2,-3.6,-4.4,-3.9,-3.9,-3.9,-1.2,-1,-1.1,-.8,-1.3,-1.2,-1.4,.6,-1.7,.3,-.9,.8],
[3.1,-6.3,2.7,-5.5,.4,-1.6,.6,.1,.7,-1.5,-.1,2.8,.6,-5.5,-2.5,-1.3,-1.2,6,-2.5]
];
// ---------- colour scale shared by all colourbars: lightgrey to blue ----------
const colorStops = ['#d3d3d3','#bdaee2','#9c82e9','#7a57f3','#0000ff'];

function hex(c){return [1,3,5].map(i=>parseInt(c.substr(i,2),16));}
function colorAt(t){
  t=Math.max(0,Math.min(1,t))*(colorStops.length-1);
  const i=Math.min(colorStops.length-2,Math.floor(t)),a=hex(colorStops[i]),b=hex(colorStops[i+1]),f=t-i;
  return 'rgb('+a.map((v,k)=>Math.round(v+(b[k]-v)*f)).join(',')+')';
}
function pairs(a){const o=[];for(let i=0;i+1<a.length;i+=2)o.push([a[i],a[i+1]]);return o;}
function levels(rows){const o=[];rows.forEach(r=>{for(let i=1;i+1<r.length;i+=2)o.push([r[i],r[i+1],r[0]]);});return o;}
function neuronPoints(){const o=[];neuronCells.forEach(r=>{for(let i=1;i<r.length;i++)o.push([r[i],r[0]]);});return o;}

const FONT='Liberation Sans';
const grids=[],xAxes=[],yAxes=[],series=[],gfx=[];
function addGrid(l,t,r,b){grids.push({left:l,top:t,width:r-l,height:b-t,containLabel:false});return grids.length-1;}
function umapPanel(o){
  const g=addGrid(o.l,o.t,o.r,o.b);
  const ax=(name,min,max,ticks,gap,margin)=>({type:'value',gridIndex:g,min,max,name,nameLocation:'middle',nameGap:gap,z:3,
    nameTextStyle:{fontSize:o.nameFont,color:'#111',fontFamily:FONT,verticalAlign:'middle'},splitLine:{show:false},
    axisLine:{show:true,onZero:false,lineStyle:{color:o.lineColor,width:o.lineWidth}},
    axisTick:{show:true,length:o.tick,lineStyle:{color:o.lineColor,width:o.lineWidth},customValues:ticks},
    axisLabel:{fontSize:o.tickFont,color:'#111',fontFamily:FONT,margin,customValues:ticks,formatter:v=>String(v)}});
  xAxes.push(ax('umapunintegrated_1',o.xr[0],o.xr[1],o.xt,o.xGap,o.margin));
  yAxes.push(ax('umapunintegrated_2',o.yr[0],o.yr[1],o.yt,o.yGap,o.marginY));
  return g;
}
function scatter(g,data,size,color,name,z){
  series.push({type:'scatter',name:name||undefined,xAxisIndex:g,yAxisIndex:g,data,symbolSize:size,silent:true,animation:false,z:z||2,
    itemStyle:{color,opacity:1,borderWidth:0}});
}
function polygon(g,pts,color,name,z){
  series.push({type:'custom',name:name||undefined,xAxisIndex:g,yAxisIndex:g,data:pts,silent:true,animation:false,z:z||2,clip:true,
    itemStyle:{color},encode:{x:0,y:1},
    renderItem:(p,api)=>p.dataIndex!==0?null:{type:'polygon',shape:{points:pts.map(q=>api.coord(q))},style:{fill:color}}});
}
function exprColor(max){return p=>colorAt(p.value[2]/max);}
function colorbar(l,t,r,b,min,max,ticks,font,margin,fmt){
  const g=addGrid(l,t,r,b);
  xAxes.push({type:'value',gridIndex:g,min:0,max:1,show:false});
  const tl=Math.round((r-l)/5);
  const tk={show:true,inside:true,length:tl,lineStyle:{color:'#fff',width:1},customValues:ticks};
  yAxes.push({type:'value',gridIndex:g,min,max,position:'right',z:10,splitLine:{show:false},axisLine:{show:false},axisTick:tk,
    axisLabel:{fontSize:font,color:'#111',fontFamily:FONT,margin,customValues:ticks,formatter:fmt}});
  const g2=addGrid(l,t,r,b);
  xAxes.push({type:'value',gridIndex:g2,min:0,max:1,show:false});
  yAxes.push({type:'value',gridIndex:g2,min,max,position:'left',z:10,splitLine:{show:false},axisLine:{show:false},axisTick:tk,axisLabel:{show:false}});
  series.push({type:'custom',xAxisIndex:g,yAxisIndex:g,silent:true,animation:false,z:2,data:[[0,min,1,max]],
    renderItem:(p,api)=>{const a=api.coord([api.value(0),api.value(3)]),c=api.coord([api.value(2),api.value(1)]);
      return {type:'rect',shape:{x:a[0],y:a[1],width:c[0]-a[0],height:c[1]-a[1]},
        style:{fill:new echarts.graphic.LinearGradient(0,0,0,1,colorStops.slice().reverse().map((col,i,arr)=>({offset:i/(arr.length-1),color:col})))}};}});
}
function dotPlot(o){
  const g=addGrid(o.l,o.t,o.r,o.b);
  xAxes.push({type:'value',gridIndex:g,min:-.6,max:3.6,name:'Identity',nameLocation:'middle',nameGap:o.xGap,z:3,
    nameTextStyle:{fontSize:o.nameFont,color:'#111',fontFamily:FONT,verticalAlign:'middle'},splitLine:{show:false},
    axisLine:{show:true,onZero:false,lineStyle:{color:'#333',width:1.5}},
    axisTick:{show:true,length:4,lineStyle:{color:'#333'},customValues:[0,1,2,3]},
    axisLabel:{fontSize:o.catFont,color:'#111',fontFamily:FONT,margin:o.catMargin,customValues:[0,1,2,3],formatter:v=>identities[Math.round(v)]}});
  const rows=o.genes.map((_,i)=>i);
  yAxes.push({type:'value',gridIndex:g,min:-.6,max:o.genes.length-.4,inverse:true,name:'Features',nameLocation:'middle',nameGap:o.yGap,z:3,
    nameTextStyle:{fontSize:o.nameFont,color:'#111',fontFamily:FONT,verticalAlign:'middle'},splitLine:{show:false},
    axisLine:{show:true,onZero:false,lineStyle:{color:'#111',width:1.5}},
    axisTick:{show:true,length:4,lineStyle:{color:'#111'},customValues:rows},
    axisLabel:{fontSize:o.geneFont,color:'#111',fontFamily:FONT,margin:6,customValues:rows,formatter:v=>o.genes[Math.round(v)]}});
  const data=[];
  o.avg.forEach((row,i)=>row.forEach((v,j)=>data.push([j,i,v,o.pct[i][j]])));
  series.push({type:'scatter',xAxisIndex:g,yAxisIndex:g,data,silent:true,animation:false,
    symbolSize:v=>o.size(v[3]),itemStyle:{opacity:1,color:p=>colorAt((p.value[2]-o.cmin)/(o.cmax-o.cmin))}});
}
function sizeLegend(l,t,r,b,vals,size,font,margin){
  const g=addGrid(l,t,r,b);
  xAxes.push({type:'value',gridIndex:g,min:0,max:1,show:false});
  yAxes.push({type:'category',gridIndex:g,data:vals.map(String),inverse:true,position:'right',z:3,splitLine:{show:false},axisLine:{show:false},axisTick:{show:false},
    axisLabel:{fontSize:font,color:'#111',fontFamily:FONT,margin,interval:0}});
  series.push({type:'scatter',xAxisIndex:g,yAxisIndex:g,data:vals.map(v=>[.5,String(v),v]),silent:true,animation:false,
    symbolSize:v=>size(v[2]),itemStyle:{color:'#000',opacity:1}});
}
function text(x,y,s,font,opts){
  gfx.push({type:'text',x,y,z:5,scaleX:(opts&&opts.sx)||1,silent:true,
    style:{text:s,fontSize:font,fontFamily:(opts&&opts.fam)||FONT,fontWeight:(opts&&opts.bold)?'bold':'normal',fill:(opts&&opts.color)||'#111',align:(opts&&opts.align)||'center',verticalAlign:'middle'}});
}
function rect(x,y,w,h){gfx.push({type:'rect',z:1,silent:true,shape:{x,y,width:w,height:h},style:{fill:'#fff'}});}

// ---------- backgrounds ----------
gfx.push({type:'rect',z:0,silent:true,shape:{x:-28,y:-5,width:2500,height:1322.5,r:118},style:{fill:'#D9D9D9',stroke:'#1F3864',lineWidth:3}});
rect(31,19,539,497);rect(650,20,1690,497);rect(22,633,524,518);rect(584,633,504,518);rect(1213,649,644,580);rect(1857,649,480,337);

function silhouette(g,color){
  polygon(g,pairs(outlineMain),color);
  polygon(g,pairs(outlineIsland),color);
  polygon(g,pairs(holeA),'#fff');
  polygon(g,pairs(holeB),'#fff');
  polygon(g,pairs(holeC),'#fff');
}
// ---------- orig.ident ----------
const gA=umapPanel({l:71,t:50,r:492,b:475,xr:[-13.05,8.27],yr:[-14.31,10.93],xt:[-10,-5,0,5],yt:[-10,-5,0,5,10],tickFont:10,nameFont:11,tick:3,margin:3,marginY:2,lineColor:'#333',lineWidth:1,xGap:23,yGap:26});
silhouette(gA,identColors.p);
idGaps.forEach(a=>polygon(gA,pairs(a),'#fff'));
polygon(gA,pairs(idPurpleBlob),identColors.p);
idGreen.forEach(a=>polygon(gA,pairs(a),identColors.g));
idSalmon.forEach(a=>polygon(gA,pairs(a),identColors.s));
scatter(gA,pairs(speckPurple),3.5,identColors.p,identities[3],3);
scatter(gA,pairs(speckGreen),3.2,identColors.g,identities[1],3);
scatter(gA,pairs(speckSalmon),3.2,identColors.s,identities[0],3);
scatter(gA,pairs(speckTeal),3,identColors.t,identities[2],3);
text(281,36.5,'orig.ident',11.8,{bold:true,color:'#000'});

// ---------- TH / TPH2 / DBH ----------
const big={t:90,b:437.3,xr:[-13.97,9.09],yr:[-15.14,11.25],xt:[-10,-5,0,5],yt:[-15,-10,-5,0,5,10],tickFont:23,nameFont:28,tick:6,margin:6,marginY:9,lineColor:'#000',lineWidth:2,xGap:54,yGap:69};
const panels=[
 {name:'TH',l:756.8,r:1111,expr:levels(thExpr),zones:thZones,max:4.93,bar:[1138,1169],ticks:[0,1,2,3,4],fmt:v=>String(v),size:5},
 {name:'TPH2',l:1303.3,r:1658,expr:tph2Expr,zones:[],max:2.446,bar:[1685,1716],ticks:[0,.5,1,1.5,2],fmt:v=>v.toFixed(1),size:4.5},
 {name:'DBH',l:1870.5,r:2225.5,expr:dbhExpr,zones:[],max:1.253,bar:[2252,2284],ticks:[0,.25,.5,.75,1],fmt:v=>v.toFixed(2),size:4.5}
];
panels.forEach(p=>{
  const g=umapPanel(Object.assign({},big,{l:p.l,r:p.r}));
  silhouette(g,'#d3d3d3');
  scatter(g,pairs(islets),6,'#d3d3d3');
  p.zones.forEach(z=>polygon(g,pairs(z.slice(1)),colorAt(z[0]/p.max)));
  scatter(g,p.expr,p.size,exprColor(p.max),null,3);
  colorbar(p.bar[0],188,p.bar[1],340,0,p.max,p.ticks,23,12,p.fmt);
  text((p.l+p.r)/2-1,58,p.name,32,{bold:true,color:'#000'});
});

// ---------- SOX6 / OTX2 ----------
const neuronBase=neuronPoints();
const small={xr:[-9.91,9.99],xt:[-5,0,5],yt:[-6,-3,0,3],tickFont:17,nameFont:20,tick:4,margin:4,marginY:7,lineColor:'#444',lineWidth:1.5,xGap:40,yGap:41};
const gS=umapPanel(Object.assign({},small,{l:83,t:685,r:454.6,b:1092,yr:[-6.54,5.575]}));
scatter(gS,neuronBase,5.5,'#d3d3d3');
scatter(gS,levels(sox6Expr),5.5,exprColor(3.03),null,3);
colorbar(474,834,496,943,0,3.03,[0,1,2,3],17,7,v=>String(v));
text(268,663,'SOX6',22.5,{bold:true,color:'#000'});
const gO=umapPanel(Object.assign({},small,{l:641,t:680.7,r:1011.7,b:1088,yr:[-6.54,5.575]}));
scatter(gO,neuronBase,5.5,'#d3d3d3');
scatter(gO,levels(otx2Expr),5.5,exprColor(3.66),null,3);
colorbar(1031.7,830,1053,939.3,0,3.66,[0,1,2,3],17,9,v=>String(v));
text(826,658,'OTX2',22.5,{bold:true,color:'#000'});

// ---------- ion channel dot plots ----------
const channelSize=p=>2+.35*p, hcnSize=p=>1.4+.8*p;
dotPlot({l:1314.4,t:657,r:1686,b:1177.7,genes:channelGenes,avg:channelAvg,pct:channelPct,size:channelSize,cmin:-1.49,cmax:1.52,geneFont:14,catFont:13.5,catMargin:5,nameFont:16,xGap:32,yGap:87});
text(1702,812.6,'Percent Expressed',16.4,{align:'left'});
sizeLegend(1702,829,1720,901,channelPctLegend,channelSize,14,8);
text(1702,925.5,'Average Expression',16.4,{align:'left'});
colorbar(1702,941,1721,1031,-1.49,1.52,avgTicks,14,6,v=>v.toFixed(1));

dotPlot({l:1924.3,t:656,r:2184.7,b:940,genes:hcnGenes,avg:hcnAvg,pct:hcnPct,size:hcnSize,cmin:-1.35,cmax:1.32,geneFont:12.5,catFont:12.4,catMargin:5,nameFont:14.8,xGap:29,yGap:55});
text(2199.3,703,'Average Expression',15,{align:'left'});
colorbar(2199,717,2216,798.7,-1.35,1.32,avgTicks,12.5,7,v=>v.toFixed(1));
text(2199.3,821,'Percent Expressed',15,{align:'left'});
sizeLegend(2199,835.5,2216.5,902,hcnPctLegend,hcnSize,12.5,7);

// ---------- captions ----------
const GOLD='#BF9000',CAP={color:GOLD,fam:'Lato',sx:1};
[['Progression in gene expression',301,559],['over three time periods',301,605.5],
 ['A significant number of cells express TH but not TPH2 or DBH, indicating a predominance of the',1416,559],['dopaminergic profile among neurons',1416,605],
 ['Transcriptomic clustering revealed the coexistence of both substantia',581,1188],['nigra (SNc-like, 7,5%) and ventral tegmental area (VTA-like,  40,1%)',581,1235],['neuronal identities within the culture.',581,1279],
 ['During the maturation cells',2097,1045],['showed progressive',2097,1091],['upregulation of some',2097,1137],['subunits of voltage-gated',2097,1183],['Na\u207A, K\u207A, Ca\u00B2\u207A, and HCN',2097,1224],['channels.',2097,1269]
].forEach(c=>text(c[1],c[2],c[0],34.2,CAP));

const chart=echarts.init(document.getElementById('c'),null,{renderer:'canvas'});
chart.setOption({
  animation:false,backgroundColor:'#fff',textStyle:{fontFamily:FONT},tooltip:{show:false},
  legend:{show:true,orient:'vertical',left:503,top:237.5,itemGap:4.8,itemWidth:8,itemHeight:8,icon:'circle',selectedMode:false,data:identities,
    textStyle:{fontSize:9,color:'#111',fontFamily:FONT},padding:0},
  grid:grids,xAxis:xAxes,yAxis:yAxes,series,graphic:{elements:gfx}
});
</script></body></html>
